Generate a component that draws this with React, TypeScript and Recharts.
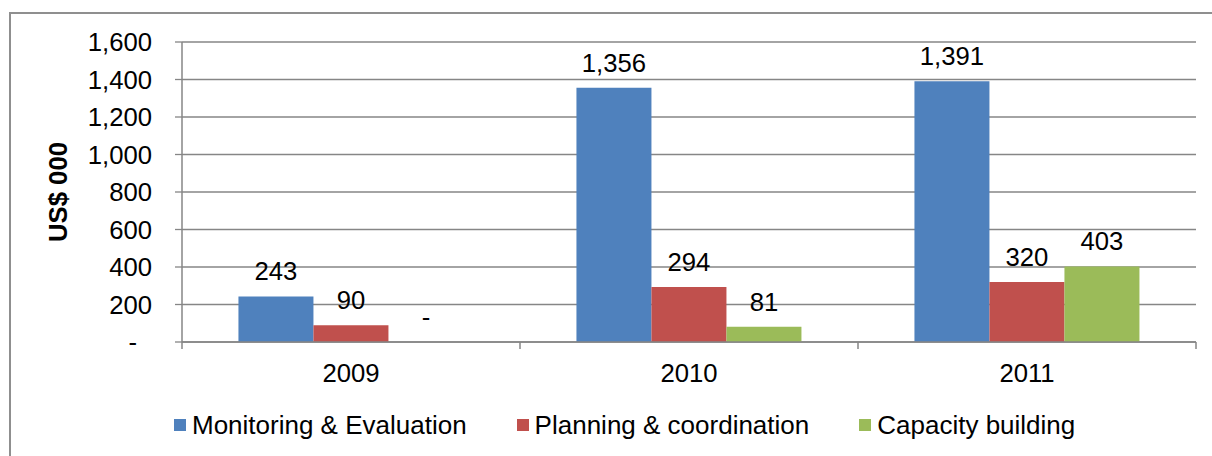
import React from "react";
import { BarChart, Bar, XAxis, YAxis, CartesianGrid, Legend, LabelList } from "recharts";

const categories = ["2009", "2010", "2011"];
const monitoringEvaluation = [243, 1356, 1391];
const planningCoordination = [90, 294, 320];
const capacityBuilding = [0, 81, 403];
const yTicks = [0, 200, 400, 600, 800, 1000, 1200, 1400, 1600];
const seriesNames = ["Monitoring & Evaluation", "Planning & coordination", "Capacity building"];
const seriesKeys = ["me", "pc", "cb"];
const seriesColors = ["#4F81BD", "#C0504D", "#9BBB59"];

const data = categories.map((c, i) => ({
  year: c,
  me: monitoringEvaluation[i],
  pc: planningCoordination[i],
  cb: capacityBuilding[i],
}));

const FONT = "'Liberation Sans', Arial, sans-serif";
const FS = 25.7;
const GRID = "#868686";

const fmt = (v: number) => (v === 0 ? "-" : Number(v).toLocaleString("en-US"));

const YTick = (props: any) => {
  const { x, y, payload } = props;
  const v = payload.value;
  return (
    <text x={v === 0 ? x - 15 : x} y={y} dy="0.355em" textAnchor="end" fill="#000" fontSize={FS} fontFamily={FONT}>
      {fmt(v)}
    </text>
  );
};

const XTick = (props: any) => {
  const { x, y, payload, width, index } = props;
  const half = width / categories.length / 2;
  return (
    <g>
      {index === 0 && <line x1={x - half} x2={x - half} y1={y} y2={y + 7} stroke={GRID} strokeWidth={1.5} />}
      <line x1={x + half} x2={x + half} y1={y} y2={y + 7} stroke={GRID} strokeWidth={1.5} />
      <text x={x} y={y + 31} dy="0.355em" textAnchor="middle" fill="#000" fontSize={FS} fontFamily={FONT}>
        {payload.value}
      </text>
    </g>
  );
};

const LegendContent = () => (
  <div style={{ display: "flex", alignItems: "center", paddingLeft: 174, height: 34 }}>
    {seriesNames.map((n, i) => (
      <div key={n} style={{ display: "flex", alignItems: "center", marginRight: 50 }}>
        <div style={{ width: 12, height: 12, background: seriesColors[i], marginRight: 6 }} />
        <span style={{ fontFamily: FONT, fontSize: 26, color: "#000", whiteSpace: "nowrap" }}>{n}</span>
      </div>
    ))}
  </div>
);

export default function App() {
  return (
    <div style={{ position: "absolute", left: 0, top: 0, width: 1212, height: 456, overflow: "hidden", background: "#fff" }}>
      <div
        style={{
          position: "absolute",
          left: 9,
          top: 12,
          width: 1230,
          height: 480,
          border: "2px solid #8f8f8f",
          boxSizing: "border-box",
        }}
      />
      <div style={{ position: "absolute", left: 0, top: 0 }}>
        <BarChart
          width={1212}
          height={456}
          data={data}
          margin={{ top: 42, right: 16, left: 0, bottom: 30 }}
          barCategoryGap="16.7%"
          barGap={0}
        >
          <CartesianGrid vertical={false} stroke={GRID} strokeWidth={1.3} />
          <XAxis
            dataKey="year"
            height={50}
            tickSize={0}
            tickMargin={0}
            tickLine={false}
            axisLine={{ stroke: GRID, strokeWidth: 1.5 }}
            tick={<XTick />}
            interval={0}
          />
          <YAxis
            width={182}
            domain={[0, 1600]}
            ticks={yTicks}
            interval={0}
            tickSize={7}
            tickMargin={23}
            tickLine={{ stroke: GRID, strokeWidth: 1.3 }}
            axisLine={{ stroke: GRID, strokeWidth: 1.5 }}
            tick={<YTick />}
            label={{
              value: "US$ 000",
              angle: -90,
              position: "insideLeft",
              offset: 0,
              dx: 58,
              style: { fontFamily: FONT, fontSize: FS, fontWeight: "bold", fill: "#000", textAnchor: "middle" },
            }}
          />
          <Legend
            verticalAlign="bottom"
            content={<LegendContent />}
            wrapperStyle={{ position: "absolute", top: 408, left: 0, width: 1212, height: 34 }}
          />
          {seriesKeys.map((k, i) => (
            <Bar
              key={k}
              dataKey={k}
              name={seriesNames[i]}
              fill={seriesColors[i]}
              minPointSize={0.01}
              isAnimationActive={false}
            >
              <LabelList
                dataKey={k}
                position="top"
                offset={16}
                formatter={(v: any) => fmt(v)}
                style={{ fontFamily: FONT, fontSize: FS, fill: "#000" }}
              />
            </Bar>
          ))}
        </BarChart>
      </div>
    </div>
  );
}
